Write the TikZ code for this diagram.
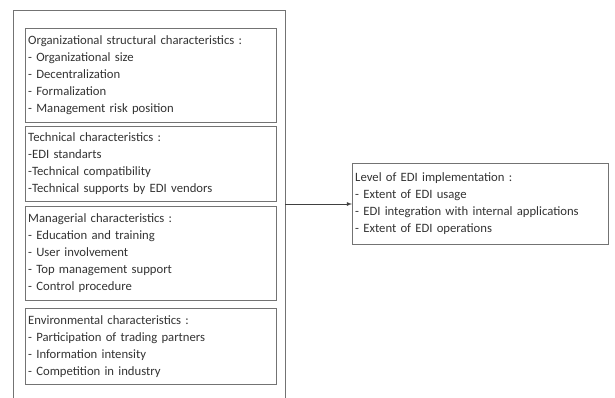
\documentclass[tikz,border=0pt]{standalone}
\usepackage{fontspec}
\setmainfont{Carlito}
\usepackage{xcolor}
\definecolor{boxgray}{gray}{.45}
\definecolor{textgray}{gray}{.2}
\usetikzlibrary{positioning}
\newcommand{\sizetext}{\fontsize{12.7}{17}\selectfont}
\tikzset{
    common/.style={anchor=north west, draw=boxgray, rectangle, align=left, text=textgray, font=\sizetext, inner xsep=3pt, inner ysep=2pt},
    factor/.style={common, text width=245pt},
    outcome/.style={common, text width=250pt, anchor=west},
    frame/.style={draw=boxgray, rectangle, anchor=north west, inner sep=0pt}
}

\begin{document}
\begin{tikzpicture}[x=1pt, y=-1pt, >=latex]
        \useasboundingbox (0,0) rectangle (615,397);

        \path
            (13,10) node[frame, minimum width=272pt, minimum height=395pt] (outer) {};

        \path
            (25,28) node[factor, minimum height=94pt] (org) {Organizational structural characteristics :\\- Organizational size\\- Decentralization\\- Formalization\\- Management risk position}
            (25,126) node[factor, minimum height=75pt] (tech) {Technical characteristics :\\-EDI standarts\\-Technical compatibility\\-Technical supports by EDI vendors}
            (25,206) node[factor, minimum height=94pt] (man) {Managerial characteristics :\\- Education and training\\- User involvement\\- Top management support\\- Control procedure}
            (25,308) node[factor, minimum height=76pt] (env) {Environmental characteristics :\\- Participation of trading partners\\- Information intensity\\- Competition in industry};

        \path
            (352,204) node[outcome, minimum height=81pt] (level) {Level of EDI implementation :\\- Extent of EDI usage\\- EDI integration with internal applications\\- Extent of EDI operations};

        \draw[->, thick, black!75]
          (outer.east |- level.west) -- (level.west);

    \end{tikzpicture}
\end{document}
